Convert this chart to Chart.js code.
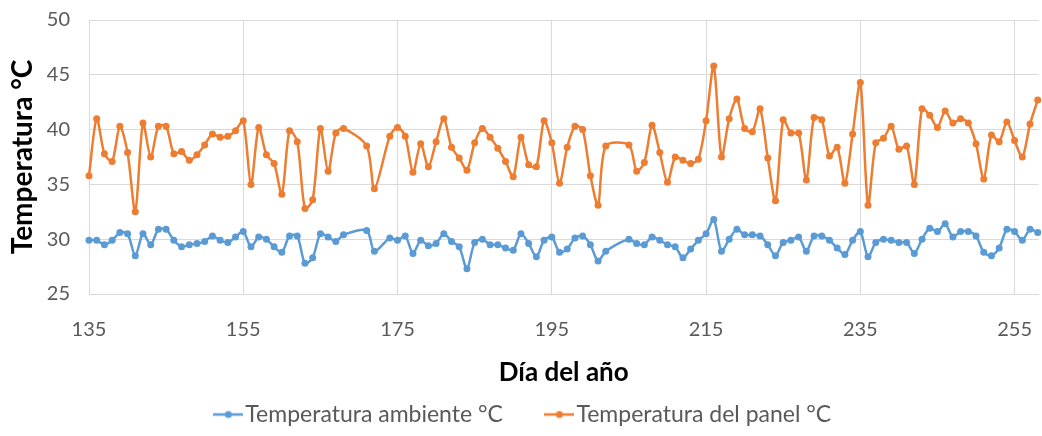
<!DOCTYPE html>
<html>
<head>
<meta charset="utf-8">
<script src="https://cdn.jsdelivr.net/npm/chart.js@4/dist/chart.umd.min.js"></script>
<style>
  html, body { margin: 0; padding: 0; background: #ffffff; }
  #wrap { width: 1042px; height: 436px; }
</style>
</head>
<body>
<div id="wrap"><canvas id="c" width="1042" height="436"></canvas></div>
<script>
const days = [
  135,136,137,138,139,140,141,142,143,144,145,146,147,148,149,150,151,152,153,154,
  155,156,157,158,159,160,161,162,163,164,165,166,167,168,171,172,174,175,176,177,
  178,179,180,181,182,183,184,185,186,187,188,189,190,191,192,193,194,195,196,197,
  198,199,200,201,202,205,206,207,208,209,210,211,212,213,214,215,216,217,218,219,
  220,221,222,223,224,225,226,227,228,229,230,231,232,233,234,235,236,237,238,239,
  240,241,242,243,244,245,246,247,248,249,250,251,252,253,254,255,256,257,258
];
const ambiente = [
  29.9,29.9,29.5,29.9,30.6,30.5,28.5,30.5,29.5,30.9,30.9,29.9,29.3,29.5,29.6,29.8,30.3,29.9,29.7,30.2,
  30.7,29.3,30.2,30.0,29.3,28.8,30.3,30.3,27.8,28.3,30.5,30.2,29.8,30.4,30.8,28.9,30.1,29.9,30.3,28.7,
  29.9,29.4,29.6,30.5,29.8,29.3,27.3,29.7,30.0,29.5,29.5,29.2,29.0,30.5,29.6,28.4,29.9,30.2,28.8,29.1,
  30.1,30.3,29.5,28.0,28.9,30.0,29.6,29.5,30.2,29.9,29.5,29.3,28.3,29.1,29.9,30.5,31.8,28.9,30.0,30.9,
  30.4,30.4,30.3,29.5,28.5,29.7,29.9,30.2,28.9,30.3,30.3,29.9,29.2,28.6,29.9,30.7,28.4,29.7,30.0,29.9,
  29.7,29.7,28.7,30.0,31.0,30.7,31.4,30.2,30.7,30.7,30.3,28.8,28.5,29.2,30.9,30.7,29.9,30.9,30.6
];
const panel = [
  35.8,41.0,37.8,37.1,40.3,37.9,32.5,40.6,37.5,40.3,40.3,37.8,38.0,37.2,37.7,38.6,39.6,39.3,39.4,39.9,
  40.8,35.0,40.2,37.7,36.9,34.1,39.9,38.9,32.8,33.6,40.1,36.2,39.7,40.1,38.5,34.6,39.4,40.2,39.4,36.1,
  38.7,36.6,38.9,41.0,38.4,37.4,36.3,38.8,40.1,39.3,38.3,37.1,35.7,39.3,36.8,36.6,40.8,38.8,35.1,38.4,
  40.3,40.0,35.8,33.1,38.5,38.6,36.2,37.0,40.4,37.9,35.2,37.5,37.2,36.9,37.3,40.8,45.8,37.5,41.0,42.8,
  40.1,39.8,41.9,37.4,33.5,40.9,39.7,39.7,35.4,41.1,40.9,37.6,38.4,35.1,39.6,44.3,33.1,38.8,39.2,40.3,
  38.2,38.5,35.0,41.9,41.3,40.2,41.7,40.6,41.0,40.6,38.7,35.5,39.5,38.9,40.7,39.0,37.5,40.5,42.7
];
const xTicks = [135,155,175,195,215,235,255];
const yTicks = [25,30,35,40,45,50];
const seriesNames = ['Temperatura ambiente °C', 'Temperatura del panel °C'];
const xTitle = 'Día del año';
const yTitle = 'Temperatura °C';

const BLUE = '#5B9BD5', ORANGE = '#ED7D31';
const FONT = 'Lato, "Open Sans", sans-serif';

function legendIcon(color) {
  const c = document.createElement('canvas');
  c.width = 30; c.height = 10;
  const g = c.getContext('2d');
  g.strokeStyle = color; g.lineWidth = 2.5;
  g.beginPath(); g.moveTo(0, 5); g.lineTo(30, 5); g.stroke();
  g.fillStyle = color;
  g.beginPath(); g.arc(15, 5, 3.5, 0, Math.PI * 2); g.fill();
  return c;
}
const icons = [legendIcon(BLUE), legendIcon(ORANGE)];

function toPoints(ys) { return days.map((d, i) => ({ x: d, y: ys[i] })); }

const ds = (label, ys, color) => ({
  label, data: toPoints(ys),
  borderColor: color, backgroundColor: color,
  borderWidth: 2.5, pointRadius: 3.5, pointHoverRadius: 3.5,
  pointBorderWidth: 0, tension: 0.28, clip: false
});

new Chart(document.getElementById('c'), {
  type: 'line',
  data: { datasets: [ds(seriesNames[0], ambiente, BLUE), ds(seriesNames[1], panel, ORANGE)] },
  options: {
    responsive: false, animation: false, devicePixelRatio: 1,
    layout: { padding: { top: 0, left: 12, right: 0, bottom: 0 } },
    scales: {
      x: {
        type: 'linear', min: 135, max: 258.1,
        afterBuildTicks: (s) => { s.ticks = xTicks.map(v => ({ value: v })); },
        afterFit: (s) => { s.height = 58; s.paddingLeft = 0; s.paddingRight = 0; },
        grid: { color: '#D9D9D9', lineWidth: 1, drawTicks: false },
        border: { color: '#D9D9D9' },
        ticks: { padding: 24, color: '#595959', font: { family: FONT, size: 20 }, maxRotation: 0 },
        title: { display: true, text: xTitle, color: '#000', font: { family: FONT, size: 26, weight: 'bold' }, padding: { top: 0, bottom: -36 } }
      },
      y: {
        min: 25, max: 50,
        afterBuildTicks: (s) => { s.ticks = yTicks.map(v => ({ value: v })); },
        afterFit: (s) => { s.width = 77; s.paddingTop = 20; s.paddingBottom = 0; },
        grid: { color: '#D9D9D9', lineWidth: 1, drawTicks: false },
        border: { color: '#D9D9D9' },
        ticks: { padding: 19, color: '#595959', font: { family: FONT, size: 20 } },
        title: { display: true, text: yTitle, color: '#000', font: { family: FONT, size: 28, weight: 'bold' }, padding: { top: -6, bottom: 0 } }
      }
    },
    plugins: {
      tooltip: { enabled: false },
      legend: {
        position: 'bottom',
        labels: {
          usePointStyle: true, pointStyleWidth: 11, boxHeight: 23,
          padding: 51, color: '#595959', font: { family: FONT, size: 23 },
          generateLabels: (chart) => Chart.defaults.plugins.legend.labels.generateLabels(chart)
            .map((l, i) => Object.assign(l, { pointStyle: icons[i] }))
        }
      }
    }
  }
});
</script>
</body>
</html>
